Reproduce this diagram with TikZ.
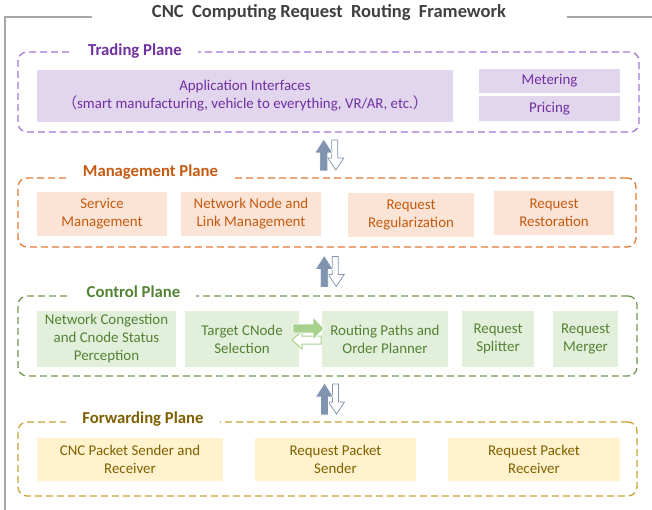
\documentclass[tikz,border=0pt]{standalone}
\usepackage{fontspec}
\setmainfont{Carlito}
\newfontfamily\cjk{Noto Sans CJK SC}
\usetikzlibrary{calc}

\definecolor{framegray}{RGB}{166,166,166}
\definecolor{titlegray}{RGB}{64,64,64}
\definecolor{arrowgray}{RGB}{128,148,176}
\definecolor{tline}{RGB}{163,120,210}
\definecolor{ttext}{RGB}{112,48,160}
\definecolor{tfill}{RGB}{226,213,238}
\definecolor{mline}{RGB}{224,122,52}
\definecolor{mtext}{RGB}{197,90,17}
\definecolor{mfill}{RGB}{251,228,213}
\definecolor{cline}{RGB}{112,150,80}
\definecolor{ctext}{RGB}{84,130,53}
\definecolor{cfill}{RGB}{226,239,218}
\definecolor{carrow}{RGB}{169,209,142}
\definecolor{fline}{RGB}{201,162,52}
\definecolor{ftext}{RGB}{127,96,0}
\definecolor{ffill}{RGB}{255,242,204}

\tikzset{
  plane/.style={draw=#1, line width=1.3pt, dash pattern=on 7pt off 4pt,
    rounded corners=9pt, inner sep=0pt},
  planelabel/.style={fill=white, text=#1, inner xsep=16pt, inner ysep=2pt,
    font=\fontsize{16.7}{19}\selectfont\bfseries},
  cell/.style={inner sep=0pt, align=center, font=\fontsize{14.9}{18}\selectfont},
  tcell/.style={cell, fill=tfill, text=ttext},
  mcell/.style={cell, fill=mfill, text=mtext},
  ccell/.style={cell, fill=cfill, text=ctext},
  fcell/.style={cell, fill=ffill, text=ftext},
  updown/.pic={
    \draw[arrowgray, fill=white, line width=0.8pt]
      (1,-15) -- (7,-15) -- (7,3) -- (13,3) -- (5,15) -- (-3,3) -- (1,3) -- cycle;
    \fill[arrowgray, draw=white, line width=0.6pt]
      (-11,16) -- (-11,-2) -- (-16,-2) -- (-7,-16) -- (2,-2) -- (-3,-2) -- (-3,16) -- cycle;
  }
}

\begin{document}
\begin{tikzpicture}[x=1pt,y=-1pt]
  \useasboundingbox (0,0) rectangle (652,510);

  % outer frame and title
  \node [font=\fontsize{18.5}{20}\selectfont\bfseries, text=titlegray] (title) at (329,13)
    {CNC\ \ Computing Request\ \ Routing\ \ Framework};
  \coordinate (fl) at (92,17);
  \coordinate (fr) at (567,17);
  \draw [framegray, line width=1.5pt] (fl) -- (5,17) -- (5,510);
  \draw [framegray, line width=1.5pt] (fr) -- (652,17);

  % planes
  \node [plane=tline, minimum width=621pt, minimum height=80pt] (trading) at (328.5,92) {};
  \node [plane=mline, minimum width=618pt, minimum height=69pt] (mgmt) at (327,212.5) {};
  \node [plane=cline, minimum width=619pt, minimum height=80pt] (ctrl) at (327.5,336) {};
  \node [plane=fline, minimum width=619pt, minimum height=74pt] (fwd) at (327.5,459) {};

  \node [planelabel=ttext] (tlabel) at (135,51) {Trading Plane};
  \node [planelabel=mtext] (mlabel) at (150.5,172) {Management Plane};
  \node [planelabel=ctext] (clabel) at (133.5,292) {Control Plane};
  \node [planelabel=ftext] (flabel) at (143,419) {Forwarding Plane};

  % trading plane
  \node [tcell, minimum width=416pt, minimum height=52pt] (app) at (245,96)
    {Application Interfaces\\{\cjk（}smart manufacturing, vehicle to everything, VR/AR, etc.{\cjk）}};
  \node [tcell, minimum width=141pt, minimum height=24pt] (meter) at (549.5,81) {Metering};
  \node [tcell, minimum width=141pt, minimum height=25pt] (price) at (549.5,108.5) {Pricing};

  % management plane
  \node [mcell, minimum width=130pt, minimum height=44pt] (svc) at (102,214) {Service\\Management};
  \node [mcell, minimum width=140pt, minimum height=44pt] (netnode) at (251,214) {Network Node and\\Link Management};
  \node [mcell, minimum width=126pt, minimum height=44pt] (regul) at (411,215) {Request\\Regularization};
  \node [mcell, minimum width=120pt, minimum height=44pt] (restor) at (554,213) {Request\\Restoration};

  % control plane
  \node [ccell, minimum width=139pt, minimum height=56pt] (congest) at (106.5,339) {Network Congestion\\and Cnode Status\\Perception};
  \node [ccell, minimum width=114pt, minimum height=56pt] (target) at (242,339) {Target CNode\\Selection};
  \node [ccell, minimum width=126pt, minimum height=56pt] (route) at (385,339) {Routing Paths and\\Order Planner};
  \node [ccell, minimum width=72pt, minimum height=56pt] (split) at (498,339) {Request\\Splitter};
  \node [ccell, minimum width=65pt, minimum height=56pt] (merge) at (585.5,339) {Request\\Merger};

  % forwarding plane
  \node [fcell, minimum width=186pt, minimum height=43pt] (cncpkt) at (130,459.5) {CNC Packet Sender and\\Receiver};
  \node [fcell, minimum width=161pt, minimum height=43pt] (sender) at (335.5,459.5) {Request Packet\\Sender};
  \node [fcell, minimum width=172pt, minimum height=43pt] (receiver) at (534,459.5) {Request Packet\\Receiver};

  % arrows between planes
  \pic at ($ (trading.south)!0.5!(mgmt.north)+(3,0) $) {updown};
  \pic at ($ (mgmt.south)!0.5!(ctrl.north)+(4,0) $) {updown};
  \pic at ($ (ctrl.south)!0.5!(fwd.north)+(4,0) $) {updown};

  % arrows between target and route
  \coordinate (sw) at ($ (target.east)!0.5!(route.west) $);
  \draw [carrow, fill=white, line width=1pt]
    ($ (sw)+(-18.5,1) $) -- ($ (sw)+(-8.5,-8) $) -- ($ (sw)+(-8.5,-3) $) -- ($ (sw)+(10.5,-3) $)
    -- ($ (sw)+(10.5,5) $) -- ($ (sw)+(-8.5,5) $) -- ($ (sw)+(-8.5,10) $) -- cycle;
  \fill [carrow, draw=white, line width=0.8pt]
    ($ (sw)+(-17.5,-15) $) -- ($ (sw)+(2.5,-15) $) -- ($ (sw)+(2.5,-22) $) -- ($ (sw)+(13.5,-10.5) $)
    -- ($ (sw)+(2.5,1) $) -- ($ (sw)+(2.5,-6) $) -- ($ (sw)+(-17.5,-6) $) -- cycle;
\end{tikzpicture}
\end{document}
